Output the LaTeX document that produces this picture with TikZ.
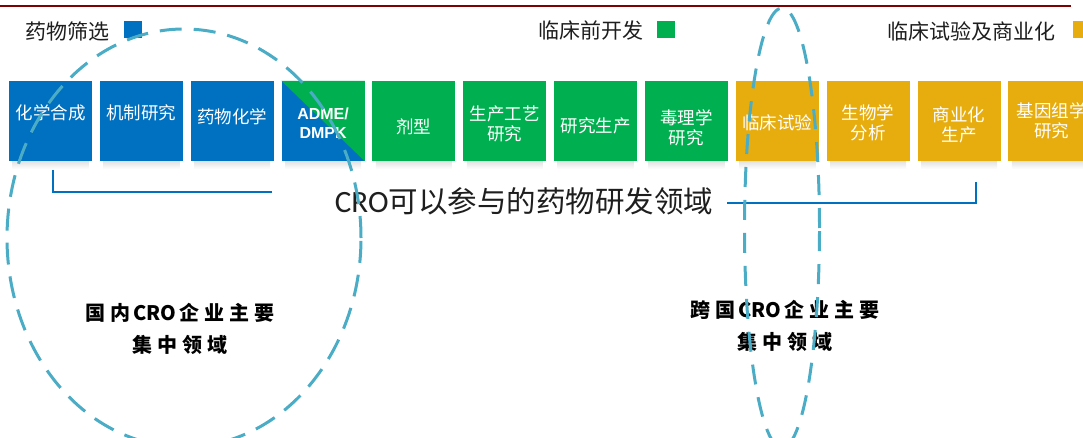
\documentclass[tikz,border=0pt]{standalone}
\usepackage{fontspec}
\usetikzlibrary{shapes.geometric}
\newfontfamily\cjk{Noto Sans CJK SC}
\newfontfamily\cjkls{Noto Sans CJK SC}[LetterSpace=25]
\newfontfamily\carl{Carlito}
\newfontfamily\arl{Liberation Sans}
\definecolor{cblue}{HTML}{0070C0}
\definecolor{cgreen}{HTML}{00B050}
\definecolor{cgold}{HTML}{E7AD0E}
\definecolor{cdash}{HTML}{4BACC6}
\definecolor{cred}{HTML}{7F0000}
\definecolor{ctext}{HTML}{1E1E1E}
\begin{document}
\begin{tikzpicture}[x=1pt,y=-1pt,
  box/.style={rectangle, minimum width=83pt, minimum height=80pt, inner sep=0pt},
  boxtext/.style={text=white, align=center, inner sep=0pt, font=\cjk\fontsize{17.5}{20}\selectfont},
  legtext/.style={anchor=west, inner sep=0pt, text=ctext, font=\cjk\fontsize{21}{24}\selectfont},
  legsq/.style={rectangle, minimum width=18pt, minimum height=17pt, inner sep=0pt},
  bracket/.style={draw=cblue, line width=2pt},
  zone/.style={ellipse, draw=cdash, line width=3pt, inner sep=0pt},
  zonetext/.style={align=center, inner sep=0pt, text=black, font=\cjkls\bfseries\fontsize{20}{32}\selectfont}
]
\clip (0,0) rectangle (1083,438);
\fill[white] (0,0) rectangle (1083,438);

% top rule
\coordinate (tl) at (0,6);
\coordinate (tr) at (1071,6);
\draw[cred, line width=2.5pt] (tl) -- (tr);

% legend
\node[legtext] (l1) at (25,31) {药物筛选};
\node[legsq, fill=cblue] (s1) at (133,29.5) {};
\node[legtext] (l2) at (538,31) {临床前开发};
\node[legsq, fill=cgreen] (s2) at (666,29.5) {};
\node[legtext] (l3) at (887,31) {临床试验及商业化};
\node[legsq, fill=cgold] (s3) at (1082,29.5) {};

% shadows
\foreach \i in {1,...,12}{
  \shade[top color=black!16, bottom color=white] ({50.5+90.85*(\i-1)-38},158) rectangle ({50.5+90.85*(\i-1)+38},169);
}

% boxes
\foreach \i/\c in {1/cblue,2/cblue,3/cblue,4/cblue,5/cgreen,6/cgreen,7/cgreen,8/cgreen,9/cgold,10/cgold,11/cgold,12/cgold}{
  \node[box, fill=\c] (b\i) at ({50.5+90.85*(\i-1)},121) {};
}
\fill[cgreen] (b4.north west) -- (b4.north east) -- (b4.south east) -- cycle;

\node[boxtext] (t1) at ([yshift=8pt]b1.center) {化学合成};
\node[boxtext] (t2) at ([yshift=8pt]b2.center) {机制研究};
\node[boxtext] (t3) at ([yshift=4pt]b3.center) {药物化学};
\node[boxtext, font=\arl\bfseries\fontsize{16}{19.5}\selectfont] (t4) at ([yshift=-2pt]b4.center) {ADME/\\DMPK};
\node[boxtext] (t5) at ([yshift=-6pt]b5.center) {剂型};
\node[boxtext] (t6) at ([yshift=-3pt]b6.center) {生产工艺\\研究};
\node[boxtext] (t7) at ([yshift=-5pt]b7.center) {研究生产};
\node[boxtext] (t8) at ([yshift=-7pt]b8.center) {毒理学\\研究};
\node[boxtext] (t9) at ([yshift=-2pt]b9.center) {临床试验};
\node[boxtext] (t10) at ([yshift=-2pt]b10.center) {生物学\\分析};
\node[boxtext] (t11) at ([yshift=-4pt]b11.center) {商业化\\生产};
\node[boxtext] (t12) at ([xshift=2pt,yshift=0pt]b12.center) {基因组学\\研究};

% central label and bracket
\node[inner sep=0pt, text=ctext, font=\cjk\fontsize{29.5}{32}\selectfont] (mid) at (524,201) {{\carl\fontsize{31}{32}\selectfont CRO}可以参与的药物研发领域};
\coordinate (bl1) at (53,170);
\coordinate (bl2) at (53,192);
\coordinate (bl3) at (272,192);
\draw[bracket] (bl1) -- (bl2) -- (bl3);
\coordinate (br1) at (727,203);
\coordinate (br2) at (976,203);
\coordinate (br3) at (976,182);
\draw[bracket] (br1) -- (br2) -- (br3);

% zone labels
\node[zonetext] (z1) at (180,329) {国内\,{\cjk\bfseries CRO}\,企业主要\\集中领域};
\node[zonetext] (z2) at (785,326) {跨国\,{\cjk\bfseries CRO}\,企业主要\\集中领域};

% dashed zones
\node[zone, dash pattern=on 22pt off 12pt, minimum width=354pt, minimum height=418pt] (e1) at (184,238) {};
\node[zone, dash pattern=on 20pt off 13pt, minimum width=75pt, minimum height=440pt] (e2) at (782,228) {};
\end{tikzpicture}
\end{document}
